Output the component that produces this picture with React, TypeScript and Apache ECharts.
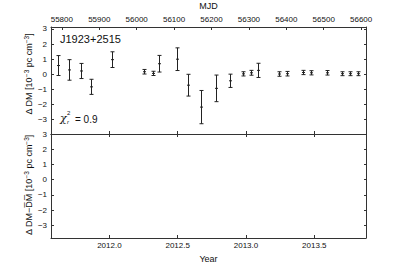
import React, { useEffect, useRef } from "react";
import * as echarts from "echarts";

const mjd = [55790.6, 55820, 55850.5, 55877.2, 55933.3, 56020.4, 56044.5, 56059.7, 56107, 56138, 56172.7, 56211.2, 56249.4, 56283.4, 56305.5, 56325, 56381.2, 56402.5, 56445.3, 56465, 56509.4, 56548.7, 56570.9, 56592.2];
const dm = [0.58, 0.29, 0.22, -0.83, 0.97, 0.17, 0.06, 0.7, 1.0, -0.72, -2.17, -0.93, -0.43, 0.03, 0.1, 0.26, 0.02, 0.04, 0.12, 0.1, 0.1, 0.04, 0.04, 0.04];
const dmErr = [0.66, 0.68, 0.5, 0.5, 0.52, 0.15, 0.14, 0.55, 0.75, 0.72, 1.1, 0.88, 0.44, 0.14, 0.16, 0.47, 0.15, 0.15, 0.14, 0.14, 0.15, 0.13, 0.13, 0.13];

const mjdTicks = [55800, 55900, 56000, 56100, 56200, 56300, 56400, 56500, 56600];
const yearTicks = [2012.0, 2012.5, 2013.0, 2013.5];
const yTicks = [-3, -2, -1, 0, 1, 2, 3];
const mjdRange = [55771, 56613];
const topYRange = [-3.95, 3.13];
const bottomYRange = [-3.84, 3.0];

const toYear = (m: number) => 2012 + (m - 55927) / 365.25;

const FONT = "Liberation Sans, Arial, Helvetica, sans-serif";
const LINE = "#333";
const TXT = "#111";

export default function App() {
  const ref = useRef<HTMLDivElement>(null);
  useEffect(() => {
    document.body.style.margin = "0";
    if (!ref.current) return;
    const chart = echarts.init(ref.current, undefined, { renderer: "svg" });
    const yearRange = [toYear(mjdRange[0]), toYear(mjdRange[1])];
    const minus = (v: number) => String(v).replace("-", "\u2212");
    const axisLine = { show: true, onZero: false, lineStyle: { color: LINE, width: 1 } };
    const tick = (vals: number[], len = 3) => ({ show: true, inside: true, length: len, customValues: vals, lineStyle: { color: LINE, width: 1 } });
    const noLabel = { show: false };
    const yLabel = { show: true, customValues: yTicks, formatter: (v: number) => minus(v), fontSize: 8, color: TXT, fontFamily: FONT, margin: 4 };
    const rich = { s: { fontSize: 6.5, fill: TXT, fontFamily: FONT, padding: [0, 0, 6, 0] } };

    const data = mjd.map((m, i) => [m, dm[i], dmErr[i]]);

    const option: any = {
      animation: false,
      backgroundColor: "#fff",
      grid: [
        { left: 51, right: 41, top: 26, height: 108 },
        { left: 51, right: 41, top: 134, height: 104 },
      ],
      xAxis: [
        {
          type: "value", gridIndex: 0, position: "top", min: mjdRange[0], max: mjdRange[1],
          axisLine, axisTick: tick(mjdTicks), splitLine: { show: false },
          axisLabel: { show: true, customValues: mjdTicks, formatter: (v: number) => String(v), fontSize: 8, color: TXT, fontFamily: FONT, margin: 4 },
          name: "MJD", nameLocation: "middle", nameGap: 17,
          nameTextStyle: { fontSize: 9, color: TXT, fontFamily: FONT },
        },
        {
          type: "value", gridIndex: 0, position: "bottom", min: yearRange[0], max: yearRange[1],
          axisLine, axisTick: tick(yearTicks), splitLine: { show: false }, axisLabel: noLabel,
        },
        {
          type: "value", gridIndex: 1, position: "top", min: yearRange[0], max: yearRange[1],
          axisLine, axisTick: tick(yearTicks), splitLine: { show: false }, axisLabel: noLabel,
        },
        {
          type: "value", gridIndex: 1, position: "bottom", min: yearRange[0], max: yearRange[1],
          axisLine, axisTick: tick(yearTicks), splitLine: { show: false },
          axisLabel: { show: true, customValues: yearTicks, formatter: (v: number) => v.toFixed(1), fontSize: 8, color: TXT, fontFamily: FONT, margin: 3 },
          name: "Year", nameLocation: "middle", nameGap: 16,
          nameTextStyle: { fontSize: 9, color: TXT, fontFamily: FONT },
        },
      ],
      yAxis: [
        {
          type: "value", gridIndex: 0, position: "left", min: topYRange[0], max: topYRange[1],
          axisLine, axisTick: tick(yTicks), splitLine: { show: false }, axisLabel: yLabel,
        },
        {
          type: "value", gridIndex: 0, position: "right", min: topYRange[0], max: topYRange[1],
          axisLine, axisTick: tick(yTicks, 2), splitLine: { show: false }, axisLabel: noLabel,
        },
        {
          type: "value", gridIndex: 1, position: "left", min: bottomYRange[0], max: bottomYRange[1],
          axisLine, axisTick: tick(yTicks), splitLine: { show: false }, axisLabel: yLabel,
        },
        {
          type: "value", gridIndex: 1, position: "right", min: bottomYRange[0], max: bottomYRange[1],
          axisLine, axisTick: tick(yTicks, 2), splitLine: { show: false }, axisLabel: noLabel,
        },
      ],
      series: [
        {
          type: "custom",
          xAxisIndex: 0,
          yAxisIndex: 0,
          encode: { x: 0, y: 1 },
          data,
          clip: true,
          renderItem: (params: any, api: any) => {
            const x = api.value(0);
            const y = api.value(1);
            const e = api.value(2);
            const c = api.coord([x, y]);
            const t = api.coord([x, y + e]);
            const b = api.coord([x, y - e]);
            const px = Math.round(c[0]) + 0.5;
            const style = { stroke: "#222", lineWidth: 1 };
            return {
              type: "group",
              children: [
                { type: "line", shape: { x1: px, y1: t[1], x2: px, y2: b[1] }, style },
                { type: "line", shape: { x1: px - 2, y1: t[1], x2: px + 2, y2: t[1] }, style },
                { type: "line", shape: { x1: px - 2, y1: b[1], x2: px + 2, y2: b[1] }, style },
                { type: "line", shape: { x1: px - 1.5, y1: c[1], x2: px + 1.5, y2: c[1] }, style },
              ],
            };
          },
        },
      ],
      graphic: [
        { type: "text", left: 60, top: 33, style: { text: "J1923+2515", fontSize: 11, fill: TXT, fontFamily: FONT } },
        { type: "text", left: 60, top: 113, style: { text: "\u03C7", fontSize: 11, fontStyle: "italic", fill: TXT, fontFamily: "DejaVu Serif, serif" } },
        { type: "text", left: 67, top: 110, style: { text: "2", fontSize: 6, fill: TXT, fontFamily: FONT } },
        { type: "text", left: 67, top: 119, style: { text: "r", fontSize: 6, fontStyle: "italic", fill: TXT, fontFamily: FONT } },
        { type: "text", left: 75, top: 114, style: { text: "= 0.9", fontSize: 10, fill: TXT, fontFamily: FONT } },
        {
          type: "text", x: 29, y: 74, rotation: Math.PI / 2,
          style: { text: "\u0394 DM [10{s|\u22123} pc cm{s|\u22123}]", align: "center", verticalAlign: "middle", fontSize: 9, fill: TXT, fontFamily: FONT, rich },
        },
        {
          type: "text", x: 29, y: 185, rotation: Math.PI / 2,
          style: { text: "\u0394 DM\u2212D\u0305M\u0305 [10{s|\u22123} pc cm{s|\u22123}]", align: "center", verticalAlign: "middle", fontSize: 9, fill: TXT, fontFamily: FONT, rich },
        },
      ],
    };
    chart.setOption(option);
    return () => chart.dispose();
  }, []);
  return <div ref={ref} style={{ width: 407, height: 265 }} />;
}
